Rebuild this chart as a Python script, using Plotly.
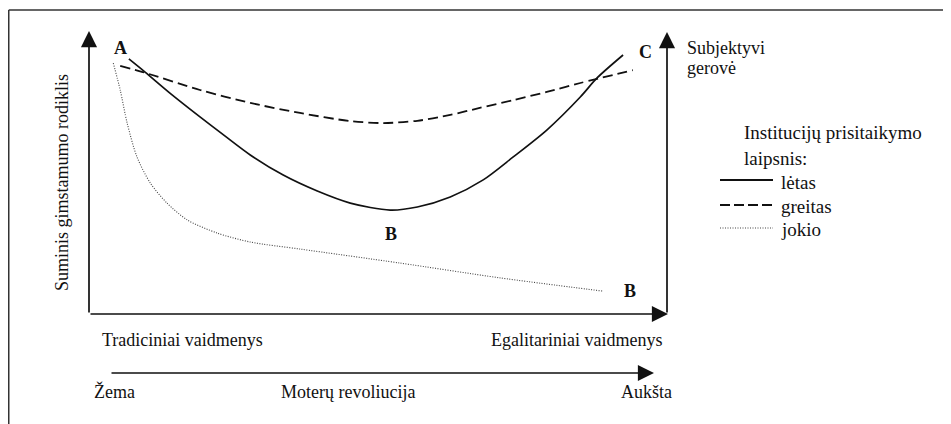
import plotly.graph_objects as go

# ---- data (conceptual units: x = progress of women's revolution 0..100, y = index 0..100)
slow_x = [6.9, 9.7, 14.0, 19.2, 23.5, 27.9, 33.6, 39.5, 45.2, 52.1, 56.8, 62.5, 68.2, 73.4, 79.2, 85.0, 87.9, 92.4]
slow_y = [91.1, 86.4, 78.9, 70.4, 63.6, 56.8, 49.6, 43.9, 39.6, 37.1, 38.2, 41.8, 47.9, 56.1, 65.7, 77.5, 84.3, 92.5]

fast_x = [5.4, 9.3, 19.2, 27.9, 36.5, 45.2, 50.9, 56.8, 62.5, 67.6, 73.4, 79.2, 85.0, 94.1]
fast_y = [88.6, 86.4, 80.0, 75.4, 71.8, 68.9, 68.2, 69.0, 71.1, 73.6, 76.4, 79.3, 82.5, 87.1]

none_x = [4.2, 5.4, 6.6, 8.3, 10.6, 13.5, 17.0, 22.2, 27.9, 36.5, 53.8, 71.1, 88.8]
none_y = [89.6, 80.0, 68.2, 56.1, 46.8, 39.6, 33.6, 28.9, 25.7, 23.2, 18.2, 12.9, 8.2]

series_names = ["lėtas", "greitas", "jokio"]

# ---- layout helpers (screen pixel -> axis units); the page body adds an 8px offset
OFF = 8
W, H = 951, 424
X0PX, SX = 89, 5.78
Y0PX, SY = 314, 2.8


def X(px):
    return (px - X0PX) / SX


def Y(py):
    return (Y0PX - py) / SY


FONT = "Liberation Serif"
BLACK = "#111111"

fig = go.Figure()
fig.add_trace(go.Scatter(x=slow_x, y=slow_y, mode="lines", name=series_names[0],
                         line=dict(color=BLACK, width=1.7, shape="spline", smoothing=0.8)))
fig.add_trace(go.Scatter(x=fast_x, y=fast_y, mode="lines", name=series_names[1],
                         line=dict(color=BLACK, width=1.8, dash="10px,5px", shape="spline", smoothing=0.8)))
fig.add_trace(go.Scatter(x=none_x, y=none_y, mode="lines", name=series_names[2],
                         line=dict(color="#444444", width=1.1, dash="1px,1.5px", shape="spline", smoothing=0.8)))

shapes = []
# outer frame (top and left edges visible)
shapes.append(dict(type="line", xref="x", yref="y", x0=X(8.75), y0=Y(10), x1=X(W), y1=Y(10),
                   line=dict(color="#333333", width=1.5)))
shapes.append(dict(type="line", xref="x", yref="y", x0=X(8.75), y0=Y(10), x1=X(8.75), y1=Y(H),
                   line=dict(color="#333333", width=1.5)))

# legend samples
leg = [(180, dict(color=BLACK, width=1.8)),
       (205, dict(color=BLACK, width=1.8, dash="10px,4px")),
       (228, dict(color="#444444", width=1.1, dash="1px,1.5px"))]
for py, ln in leg:
    shapes.append(dict(type="line", xref="x", yref="y", x0=X(720), y0=Y(py), x1=X(773), y1=Y(py), line=ln))

annotations = []


def arrow(x0, y0, x1, y1):
    annotations.append(dict(x=X(x1), y=Y(y1), ax=X(x0), ay=Y(y0), xref="x", yref="y",
                            axref="x", ayref="y", text="", showarrow=True, arrowhead=2,
                            arrowsize=1.9, arrowwidth=1.7, arrowcolor=BLACK, standoff=0))


# axes with arrows
arrow(89, 314, 89, 31)      # left vertical
arrow(667, 314, 667, 32)    # right vertical
arrow(89, 314, 668, 314)    # bottom horizontal
arrow(110, 373, 654, 373)   # Moterų revoliucija


def text(px, py, s, size=18, anchor="left", bold=False, angle=0):
    annotations.append(dict(x=X(px), y=Y(py), xref="x", yref="y", text=f"<b>{s}</b>" if bold else s,
                            showarrow=False, xanchor=anchor, yanchor="middle", textangle=angle,
                            font=dict(family=FONT, size=size, color=BLACK)))


text(62, 183, "Suminis gimstamumo rodiklis", anchor="center", angle=-90)
text(120, 48, "A", anchor="center", bold=True, size=18)
text(645, 52, "C", anchor="center", bold=True, size=18)
text(391, 234, "B", anchor="center", bold=True, size=18)
text(630, 291, "B", anchor="center", bold=True, size=18)
text(100, 340, "Tradiciniai vaidmenys")
text(664, 340, "Egalitariniai vaidmenys", anchor="right")
text(92, 391, "Žema")
text(348, 392, "Moterų revoliucija", anchor="center")
text(674, 392, "Aukšta", anchor="right")
text(685, 48, "Subjektyvi", size=18)
text(685, 68, "gerovė", size=18)
text(742, 132, "Institucijų prisitaikymo", size=19)
text(742, 158, "laipsnis:", size=19)
text(779, 182, series_names[0], size=19)
text(779, 206, series_names[1], size=19)
text(779, 229, series_names[2], size=19)

fig.update_layout(
    width=W - OFF, height=H - OFF,
    margin=dict(l=0, r=0, t=0, b=0, pad=0),
    paper_bgcolor="white", plot_bgcolor="white",
    showlegend=False,
    xaxis=dict(range=[X(OFF), X(W)], visible=False, fixedrange=True),
    yaxis=dict(range=[Y(H), Y(OFF)], visible=False, fixedrange=True),
    shapes=shapes, annotations=annotations,
)

fig.write_html("out.html")
